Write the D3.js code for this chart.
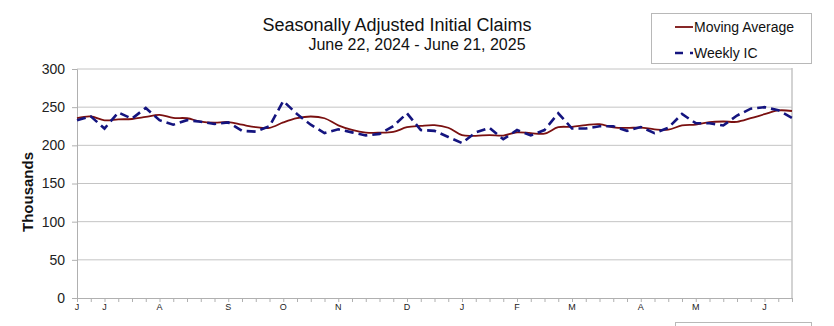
<!DOCTYPE html>
<html>
<head>
<meta charset="utf-8">
<script src="https://cdn.jsdelivr.net/npm/d3@7"></script>
<style>
  html, body { margin: 0; padding: 0; background: #fff; }
  svg { display: block; font-family: "Liberation Sans", Arial, sans-serif; }
</style>
</head>
<body>
<svg id="chart" width="834" height="326"></svg>
<script>
// ---- data ----
const weeks = [
  "2024-06-22","2024-06-29","2024-07-06","2024-07-13","2024-07-20","2024-07-27",
  "2024-08-03","2024-08-10","2024-08-17","2024-08-24","2024-08-31","2024-09-07",
  "2024-09-14","2024-09-21","2024-09-28","2024-10-05","2024-10-12","2024-10-19",
  "2024-10-26","2024-11-02","2024-11-09","2024-11-16","2024-11-23","2024-11-30",
  "2024-12-07","2024-12-14","2024-12-21","2024-12-28","2025-01-04","2025-01-11",
  "2025-01-18","2025-01-25","2025-02-01","2025-02-08","2025-02-15","2025-02-22",
  "2025-03-01","2025-03-08","2025-03-15","2025-03-22","2025-03-29","2025-04-05",
  "2025-04-12","2025-04-19","2025-04-26","2025-05-03","2025-05-10","2025-05-17",
  "2025-05-24","2025-05-31","2025-06-07","2025-06-14","2025-06-21"
];
const weeklyIC = [
  233,238,222,243,235,249,233,227,233,231,228,230,219,218,225,258,241,227,
  216,221,217,213,215,225,242,220,219,211,203,217,223,208,220,213,220,242,
  222,222,225,225,219,224,216,223,241,229,229,226,239,248,250,246,236
];
const movingAvg = [
  235.5,237.75,232.75,234,234.5,237.25,240,236,235.5,231,229.75,230.5,227,223.75,
  223,230,235.5,237.75,235.5,226.25,220.25,216.75,216.5,217.5,223.75,225.5,226.5,
  223,213.25,212.5,213.5,212.75,217,216,215.25,223.75,224.25,226.5,227.75,223.5,
  222.75,223.25,221,220.5,226,227.25,230.5,231.25,230.75,235.5,240.75,245.75,245
];
const monthLabels = ["J","J","A","S","O","N","D","J","F","M","A","M","J"];
const monthWeekIdx = [0,2,6,11,15,19,24,28,32,36,41,45,50];
const yTicks = [0,50,100,150,200,250,300];

// ---- layout ----
const svg = d3.select("#chart");
const pLeft = 77, pRight = 792, pTop = 69, pBottom = 298;

const x = d3.scaleLinear().domain([0, weeks.length - 1]).range([pLeft, pRight]);
const y = d3.scaleLinear().domain([0, 300]).range([pBottom, pTop]);

// title
svg.append("text").attr("x", 397).attr("y", 31).attr("text-anchor", "middle")
  .attr("font-size", 18).attr("fill", "#111").text("Seasonally Adjusted Initial Claims");
svg.append("text").attr("x", 417).attr("y", 50).attr("text-anchor", "middle")
  .attr("font-size", 16).attr("fill", "#111").text("June 22, 2024 - June 21, 2025");

// gridlines
svg.append("g").selectAll("line").data(yTicks.filter(d => d > 0)).join("line")
  .attr("x1", pLeft).attr("x2", pRight)
  .attr("y1", d => y(d)).attr("y2", d => y(d))
  .attr("stroke", "#c4c4c4").attr("stroke-width", 1);

// plot frame right side
svg.append("line").attr("x1", pRight).attr("x2", pRight).attr("y1", pTop - 1).attr("y2", pBottom)
  .attr("stroke", "#c4c4c4").attr("stroke-width", 1.5);

// y axis
const yAxis = svg.append("g").attr("transform", `translate(${pLeft},0)`)
  .call(d3.axisLeft(y).tickValues(yTicks).tickSize(5).tickPadding(7));
yAxis.select(".domain").attr("stroke", "#b0b0b0");
yAxis.selectAll(".tick line").attr("stroke", "#b0b0b0");
yAxis.selectAll(".tick text").attr("font-size", 14).attr("fill", "#222")
  .attr("font-family", "Liberation Sans, Arial, sans-serif");

// x axis (weekly ticks)
const xAxis = svg.append("g").attr("transform", `translate(0,${pBottom})`)
  .call(d3.axisBottom(x).tickValues(d3.range(weeks.length)).tickSize(4).tickFormat(""));
xAxis.select(".domain").attr("stroke", "#b0b0b0");
xAxis.selectAll(".tick line").attr("stroke", "#b0b0b0");

// month labels
svg.append("g").selectAll("text").data(monthLabels).join("text")
  .attr("x", (d, i) => x(monthWeekIdx[i]))
  .attr("y", 310).attr("text-anchor", "middle")
  .attr("font-size", 9).attr("fill", "#222").text(d => d);

// y label
svg.append("text").attr("transform", "translate(33,192) rotate(-90)")
  .attr("text-anchor", "middle").attr("font-size", 15).attr("font-weight", "bold")
  .attr("fill", "#111").text("Thousands");

// lines
const maLine = d3.line().x((d, i) => x(i)).y(d => y(d)).curve(d3.curveCatmullRom.alpha(0.5));
const icLine = d3.line().x((d, i) => x(i)).y(d => y(d));

svg.append("path").datum(movingAvg).attr("d", maLine)
  .attr("fill", "none").attr("stroke", "#7a1010").attr("stroke-width", 1.8);
svg.append("path").datum(weeklyIC).attr("d", icLine)
  .attr("fill", "none").attr("stroke", "#14147f").attr("stroke-width", 2.6)
  .attr("stroke-dasharray", "9,5");

// legend
const lg = svg.append("g");
lg.append("rect").attr("x", 651.5).attr("y", 13.5).attr("width", 160).attr("height", 50)
  .attr("fill", "#fff").attr("stroke", "#b8b8b8").attr("stroke-width", 1);
lg.append("line").attr("x1", 675).attr("x2", 693).attr("y1", 27).attr("y2", 27)
  .attr("stroke", "#7a1010").attr("stroke-width", 1.8);
lg.append("text").attr("x", 694).attr("y", 32).attr("font-size", 14).attr("fill", "#111").text("Moving Average");
lg.append("line").attr("x1", 675).attr("x2", 693).attr("y1", 53).attr("y2", 53)
  .attr("stroke", "#14147f").attr("stroke-width", 2.6).attr("stroke-dasharray", "8,7");
lg.append("text").attr("x", 694).attr("y", 58).attr("font-size", 14).attr("fill", "#111").text("Weekly IC");

// partial box at bottom right
svg.append("rect").attr("x", 675.5).attr("y", 322.5).attr("width", 136).attr("height", 20)
  .attr("fill", "none").attr("stroke", "#b8b8b8").attr("stroke-width", 1);
</script>
</body>
</html>
